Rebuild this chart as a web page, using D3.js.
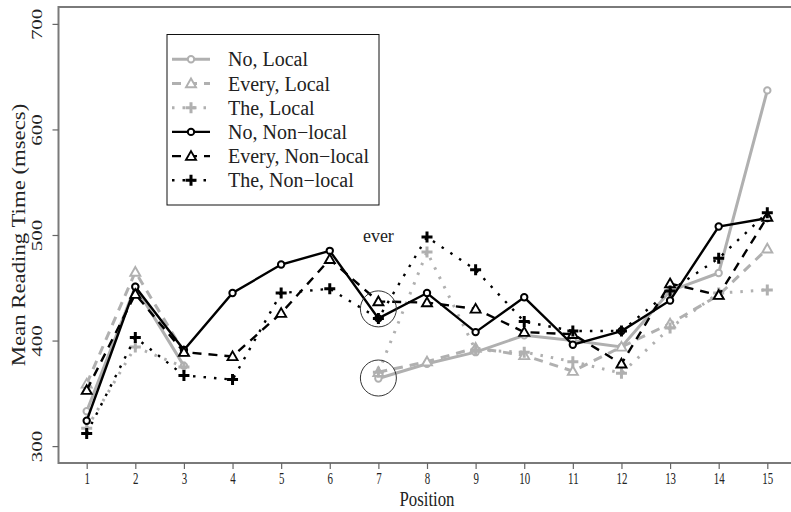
<!DOCTYPE html>
<html>
<head>
<meta charset="utf-8">
<script src="https://cdn.jsdelivr.net/npm/d3@7"></script>
<style>
  body { margin: 0; background: #fff; }
  svg { font-family: "Liberation Serif", "DejaVu Serif", serif; }
</style>
</head>
<body>
<svg id="chart" width="791" height="512"></svg>
<script>
// chart data
const positions = [1, 2, 3, 4, 5, 6, 7, 8, 9, 10, 11, 12, 13, 14, 15];
const noLocal       = [333, 451, 376, null, null, null, 364, 378, 389, 405, 400, 394, 447, 464, 637];
const everyLocal    = [359, 465, 389, null, null, null, 370, 380, 393, 386, 371, 394, 416, 443, 487];
const theLocal      = [317, 394, 375, null, null, null, 370, 484, 391, 389, 380, 369, 412, 445, 448];
const noNonLocal    = [324, 451, 391, 445, 472, 485, 421, 445, 408, 441, 396, 409, 438, 508, 516];
const everyNonLocal = [353, 444, 389, 385, 426, 477, 437, 436, 430, 408, 406, 378, 454, 443, 517];
const theNonLocal   = [312, 403, 367, 363, 445, 449, 421, 498, 467, 418, 409, 409, 447, 478, 521];
const yTicks = [300, 400, 500, 600, 700];
const seriesNames = ["No, Local", "Every, Local", "The, Local", "No, Non\u2212local", "Every, Non\u2212local", "The, Non\u2212local"];
// circled points at position 7 and the "ever" label
const circled = [430, 364.5];
const everLabel = { pos: 7, value: 499, text: "ever" };

const svg = d3.select("#chart");

const x = d3.scaleLinear().domain([0.42, 15.58]).range([58.5, 795.5]);
const y = d3.scaleLinear().domain([284, 716]).range([463, 7]);

const gray = "#b0b0b0";
const styles = [
  { values: noLocal,       color: gray,   width: 3,   dash: null,    shape: "circle" },
  { values: everyLocal,    color: gray,   width: 3,   dash: "9,7",   shape: "triangle" },
  { values: theLocal,      color: gray,   width: 3,   dash: "2.5,8", shape: "plus" },
  { values: noNonLocal,    color: "#000", width: 2.4, dash: null,    shape: "circle" },
  { values: everyNonLocal, color: "#000", width: 2.4, dash: "9,7",   shape: "triangle" },
  { values: theNonLocal,   color: "#000", width: 2.4, dash: "2.5,8", shape: "plus" }
];

// frame (right edge falls outside the picture)
svg.append("rect")
  .attr("x", x(0.42)).attr("y", y(716))
  .attr("width", x(15.58) - x(0.42)).attr("height", y(284) - y(716))
  .attr("fill", "none").attr("stroke", "#7a7a7a").attr("stroke-width", 2);

// x axis
const xAxis = svg.append("g")
  .attr("transform", "translate(0," + y(284) + ")")
  .call(d3.axisBottom(x).tickValues(positions).tickFormat(d3.format("d")).tickSize(6).tickSizeOuter(0))
  .attr("font-family", null).attr("font-size", null);
xAxis.select(".domain").remove();
xAxis.selectAll("line").attr("stroke", "#666").attr("stroke-width", 1.2);
xAxis.selectAll("text")
  .attr("y", 10).attr("dy", "0.71em")
  .attr("fill", "#222")
  .style("font-size", "16px")
  .attr("transform", "scale(0.68,1)");

// y axis
const yAxis = svg.append("g")
  .attr("transform", "translate(" + x(0.42) + ",0)")
  .call(d3.axisLeft(y).tickValues(yTicks).tickSize(6).tickSizeOuter(0))
  .attr("font-family", null).attr("font-size", null);
yAxis.select(".domain").remove();
yAxis.selectAll("line").attr("stroke", "#666").attr("stroke-width", 1.2);
yAxis.selectAll("text")
  .attr("x", null).attr("dy", null)
  .attr("text-anchor", "middle")
  .attr("fill", "#222")
  .style("font-size", "15px")
  .attr("transform", "translate(-17,0) rotate(-90) scale(1.4,1)");

// axis titles
svg.append("text")
  .attr("transform", "translate(" + (x(8)) + ",506) scale(0.8,1)")
  .attr("text-anchor", "middle")
  .style("font-size", "21px").attr("fill", "#222")
  .text("Position");
svg.append("text")
  .attr("transform", "translate(25," + y(500) + ") rotate(-90) scale(1.2,1)")
  .attr("text-anchor", "middle")
  .style("font-size", "19px").attr("fill", "#222")
  .text("Mean Reading Time (msecs)");

// marker drawing
function marker(g, shape, color, cx, cy) {
  if (shape === "circle") {
    g.append("circle").attr("cx", cx).attr("cy", cy).attr("r", 3.2)
      .attr("fill", "#fff").attr("stroke", color).attr("stroke-width", 2);
  } else if (shape === "triangle") {
    const s = 5;
    g.append("path")
      .attr("d", `M${cx},${cy - s}L${cx + s},${cy + s * 0.75}L${cx - s},${cy + s * 0.75}Z`)
      .attr("fill", "#fff").attr("stroke", color).attr("stroke-width", 1.9);
  } else {
    const s = 5.5;
    g.append("path")
      .attr("d", `M${cx - s},${cy}H${cx + s}M${cx},${cy - s}V${cy + s}`)
      .attr("stroke", color).attr("stroke-width", 3);
  }
}

const line = d3.line()
  .defined(d => d[1] != null)
  .x(d => x(d[0]))
  .y(d => y(d[1]));

styles.forEach(s => {
  const pts = positions.map((p, i) => [p, s.values[i]]);
  svg.append("path")
    .attr("d", line(pts))
    .attr("fill", "none")
    .attr("stroke", s.color)
    .attr("stroke-width", s.width)
    .attr("stroke-dasharray", s.dash);
  const g = svg.append("g");
  pts.filter(d => d[1] != null).forEach(d => marker(g, s.shape, s.color, x(d[0]), y(d[1])));
});

// annotation circles and label
circled.forEach(v => {
  svg.append("circle")
    .attr("cx", x(7)).attr("cy", y(v)).attr("r", 18)
    .attr("fill", "none").attr("stroke", "#333").attr("stroke-width", 1);
});
svg.append("text")
  .attr("x", x(everLabel.pos)).attr("y", y(everLabel.value)).attr("dy", "0.35em")
  .attr("text-anchor", "middle")
  .style("font-size", "18px").attr("fill", "#222")
  .text(everLabel.text);

// legend
const legend = svg.append("g");
legend.append("rect")
  .attr("x", 167).attr("y", 34.5).attr("width", 212).attr("height", 170.5)
  .attr("fill", "#fff").attr("stroke", "#111").attr("stroke-width", 1);
seriesNames.forEach((name, i) => {
  const s = styles[i];
  const cy = 59.3 + i * 24.2;
  legend.append("line")
    .attr("x1", 172).attr("x2", 210).attr("y1", cy).attr("y2", cy)
    .attr("stroke", s.color).attr("stroke-width", s.width)
    .attr("stroke-dasharray", s.dash);
  marker(legend, s.shape, s.color, 191, cy);
  legend.append("text")
    .attr("x", 228).attr("y", cy).attr("dy", "0.35em")
    .style("font-size", "20px").attr("fill", "#222")
    .text(name);
});
</script>
</body>
</html>
